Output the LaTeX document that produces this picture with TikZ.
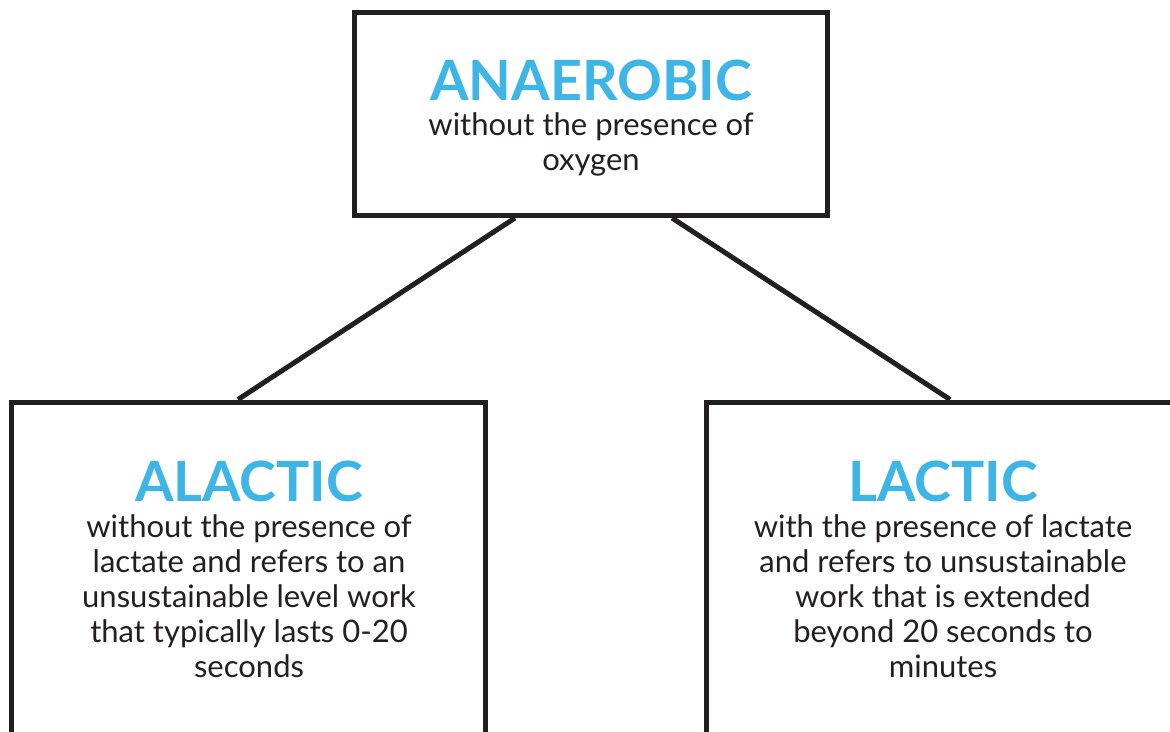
\documentclass[tikz,border=0pt]{standalone}
\usepackage{fontspec}
\setmainfont{Lato}
\definecolor{ttlblue}{HTML}{3DB5E6}
\definecolor{ink}{HTML}{231F20}
\begin{document}
\begin{tikzpicture}[x=1pt,y=-1pt,
  box/.style={draw=ink,line width=5pt,rectangle,inner sep=0pt},
  ttl/.style={anchor=base,text=ttlblue,font=\fontsize{55.5}{60}\selectfont\bfseries,inner sep=0pt},
  body/.style={anchor=base,text=ink,font=\fontsize{31}{35}\selectfont,align=center,inner sep=0pt},
  link/.style={draw=ink,line width=5pt}]
\useasboundingbox (0,0) rectangle (1170,731);
\clip (0,0) rectangle (1170,731);
\node[box,minimum width=473pt,minimum height=203.5pt] (top) at (591,113.75) {};
\node[box,minimum width=474pt,minimum height=380pt] (left) at (248.5,592) {};
\node[box,minimum width=474pt,minimum height=380pt] (right) at (943.5,592) {};
\node[ttl] (t1) at (591,100) {ANAEROBIC};
\node[body] (b1) at (591,170) {without the presence of\\oxygen};
\node[ttl] (t2) at (249,501) {ALACTIC};
\node[body] (b2) at (249,677) {without the presence of\\lactate and refers to an\\unsustainable level work\\that typically lasts 0-20\\seconds};
\node[ttl] (t3) at (943,501) {LACTIC};
\node[body] (b3) at (943,677) {with the presence of lactate\\and refers to unsustainable\\work that is extended\\beyond 20 seconds to\\minutes};
\draw[link] ([xshift=-76pt]top.south) -- ([xshift=-10.5pt]left.north);
\draw[link] ([xshift=81pt]top.south) -- ([xshift=6.5pt]right.north);
\end{tikzpicture}
\end{document}
